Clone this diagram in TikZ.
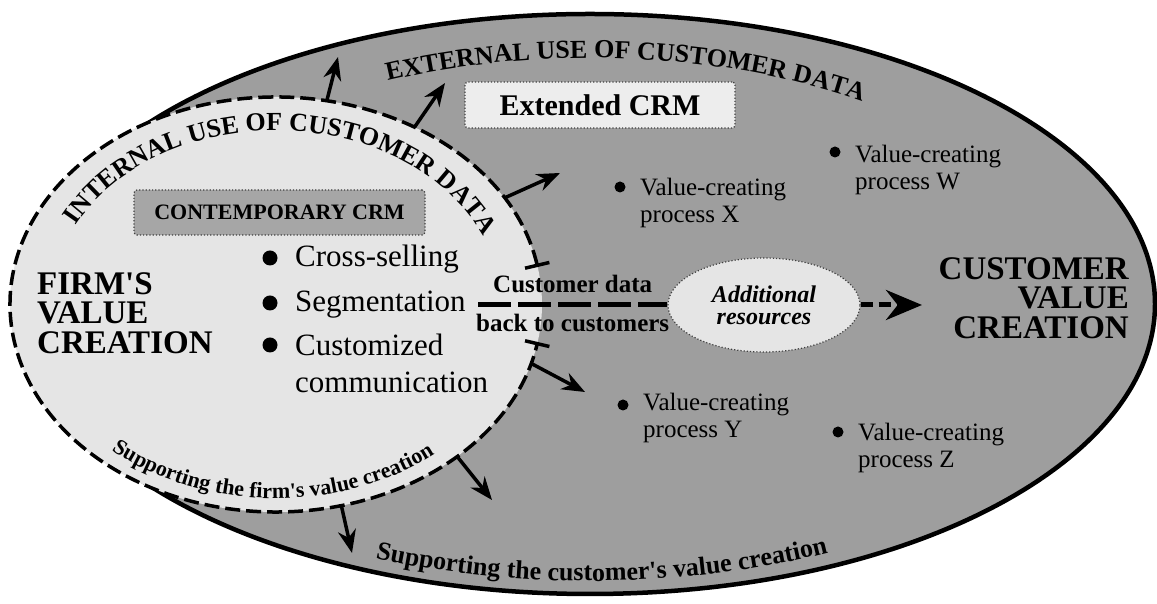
\documentclass[tikz,border=0pt]{standalone}
\usepackage{fontspec}
\setmainfont{Liberation Serif}[Ligatures=TeXOff]
\usetikzlibrary{shapes.geometric,arrows.meta,calc,decorations.text}

\definecolor{custgray}{gray}{0.62}
\definecolor{firmgray}{gray}{0.90}
\definecolor{boxgray}{gray}{0.65}
\definecolor{palegray}{gray}{0.93}

\newcommand{\curvefont}{\bfseries\fontsize{26}{26}\selectfont}
\newcommand{\smallcurve}{\bfseries\fontsize{22}{22}\selectfont}

\tikzset{
  outarrow/.style={line width=3.5pt, -{Stealth[length=23pt,width=18pt]}},
  crmbox/.style={draw=black!75, dotted, line width=1.2pt, rounded corners=3pt, inner sep=0pt},
  bigtitle/.style={font=\bfseries\fontsize{33}{29.5}\selectfont, inner sep=0pt},
  crmitem/.style={font=\fontsize{31}{37}\selectfont, inner sep=0pt},
  proc/.style={font=\fontsize{25}{27}\selectfont, align=left, inner sep=0pt, anchor=north west},
  cdlabel/.style={font=\bfseries\fontsize{25}{25}\selectfont, inner sep=0pt},
}

\begin{document}
\begin{tikzpicture}[x=1pt,y=1pt]
            \useasboundingbox (0,0) rectangle (1157,604);
            \node[ellipse, draw, line width=4.5pt, fill=custgray, minimum width=1130pt, minimum height=580pt, inner sep=0pt, outer sep=0pt] (cust) at (590,300) {};
            \node[ellipse, fill=firmgray, minimum width=532pt, minimum height=415pt, inner sep=0pt, outer sep=0pt] (firm) at (276,299.5) {};
            \draw[line width=3.5pt, dash pattern=on 15pt off 6pt, {Bar[width=25pt]}-{Bar[width=25pt]}] ($(firm.center)+(10.4:266 and 207.5)$) arc[start angle=10.4, end angle=349.6, x radius=266, y radius=207.5];

            % texts along the two spheres
            \path[decorate, decoration={text along path, text align=center, text={|\curvefont|INTERNAL USE OF CUSTOMER DATA}}] ($(firm.center)+(170:225 and 174)$) arc[start angle=170, end angle=6, x radius=225, y radius=174];
            \path[decorate, decoration={text along path, text align=center, text={|\curvefont|EXTERNAL USE OF CUSTOMER DATA}}] ($(cust.center)+(130:480 and 246)$) arc[start angle=130, end angle=39, x radius=480, y radius=246];
            \path[decorate, decoration={text along path, text align=center, text={|\smallcurve|Supporting the firm's value creation}}] ($(firm.center)+(198:249 and 194)$) arc[start angle=198, end angle=340, x radius=249, y radius=194];
            \path[decorate, decoration={text along path, text align=center, text={|\curvefont|Supporting the customer's value creation}}] ($(cust.center)+(234:540 and 277)$) arc[start angle=234, end angle=309, x radius=540, y radius=277];

            \coordinate (out1) at (338,547);
            \coordinate (out2) at (445,521);
            \coordinate (out3) at (560,431);
            \coordinate (out4) at (585,212);
            \coordinate (out5) at (492,104);
            \coordinate (out6) at (352,51);
            \draw[outarrow] (firm.76) -- (out1);
            \draw[outarrow] (firm.52) -- (out2);
            \draw[outarrow] (firm.25) -- (out3);
            \draw[outarrow] (firm.347) -- (out4);
            \draw[outarrow] (firm.320) -- (out5);
            \draw[outarrow] (firm.288) -- (out6);

            \node[crmbox, fill=boxgray, minimum width=291pt, minimum height=45pt, font=\bfseries\fontsize{22}{22}\selectfont] (contemp) at (279.5,391.5) {CONTEMPORARY CRM};
            \node[crmbox, fill=palegray, minimum width=270pt, minimum height=46pt, font=\bfseries\fontsize{30}{30}\selectfont] (extcrm) at (600,499) {Extended CRM};

            \node[bigtitle, align=left, anchor=north west] (firmvc) at (37,332) {FIRM'S\\VALUE\\CREATION};
            \node[bigtitle, align=right, anchor=north east] (custvc) at (1129,347) {CUSTOMER\\VALUE\\CREATION};

            \node[crmitem, anchor=base west] (cross) at (295,337) {Cross-selling};
            \node[crmitem, anchor=base west] (segm) at (295,292) {Segmentation};
            \node[crmitem, anchor=north west, align=left] (custcomm) at (295,270) {Customized\\communication};
            \fill (270,346) circle (7.5);
            \fill (270,301) circle (7.5);
            \fill (270,259) circle (7.5);

            \node[proc] (procx) at (640,426) {Value-creating\\process X};
            \node[proc] (procw) at (855,459) {Value-creating\\process W};
            \node[proc] (procy) at (643,211) {Value-creating\\process Y};
            \node[proc] (procz) at (858,181) {Value-creating\\process Z};
            \fill (620,417) circle (5.5);
            \fill (835,452) circle (5.5);
            \fill (623,199) circle (5.5);
            \fill (838,172) circle (5.5);

            \coordinate (cdstart) at (478,299);
            \coordinate (cvtip) at (922,299);
            \node[ellipse, draw=black!75, dotted, line width=1.2pt, fill=firmgray, minimum width=192pt, minimum height=94pt, inner sep=0pt, align=center, font=\bfseries\itshape\fontsize{24}{22}\selectfont] (addres) at (764,299) {Additional\\resources};
            \draw[line width=5pt, dash pattern=on 33pt off 7pt] (cdstart) -- (addres)
                node[midway, above=10pt, cdlabel] (cdabove) {Customer data}
                node[midway, below=7pt, cdlabel] (cdbelow) {back to customers};
            \draw[line width=5pt, dash pattern=on 12pt off 6pt, -{Stealth[length=36pt,width=30pt]}] (addres) -- (cvtip);
        \end{tikzpicture}
\end{document}
